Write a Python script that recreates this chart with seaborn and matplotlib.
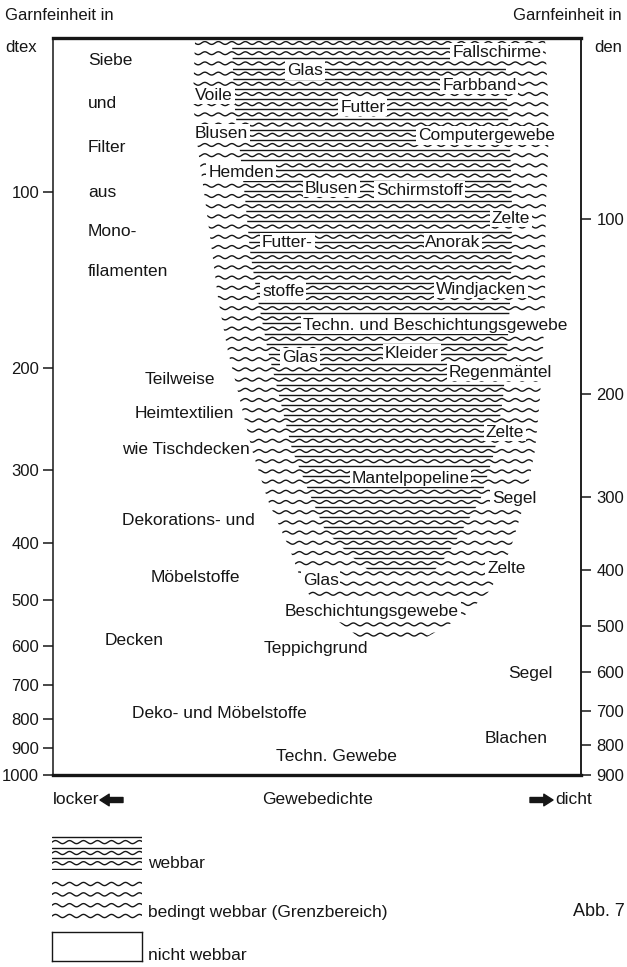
import numpy as np
import matplotlib
matplotlib.use("Agg")
import matplotlib.pyplot as plt
import matplotlib.transforms as mtransforms
from matplotlib.collections import LineCollection
from matplotlib.ticker import NullLocator
import seaborn as sns

# Grenzbereich (bedingt webbar): Garnfeinheit in dtex, Gewebedichte 0..100
outer_dtex = [55, 70, 85, 103, 126, 153, 187, 227, 277, 338, 411, 482, 532, 582]
outer_left = [26.9, 26.5, 27.5, 28.8, 30.1, 31.3, 33.1, 35.4, 37.7, 40.7, 44.9, 47.7, 52.5, 58.1]
outer_right = [93.2, 93.8, 93.8, 93.4, 93.2, 93.2, 92.8, 92.2, 91.3, 89.4, 86.6, 82.8, 78.0, 70.5]

# webbarer Bereich
inner_dtex = [55, 70, 85, 103, 126, 153, 187, 227, 277, 338, 380, 420, 445]
inner_left = [33.9, 34.3, 35.4, 36.4, 37.3, 38.8, 40.7, 43.0, 45.3, 49.1, 51.5, 56.3, 59.7]
inner_right = [85.6, 86.0, 86.6, 86.9, 86.9, 86.6, 86.0, 85.2, 83.7, 80.9, 77.5, 74.6, 72.3]

dtex_ticks = [100, 200, 300, 400, 500, 600, 700, 800, 900, 1000]
den_ticks = [100, 200, 300, 400, 500, 600, 700, 800, 900]

# Stoffe innerhalb der Fläche (Text, Dichte, dtex)
labels_in = [
    ("Fallschirme", 75.6, 57.5), ("Glas", 44.3, 61.8), ("Farbband", 73.7, 65.5),
    ("Voile", 26.9, 68.2), ("Futter", 54.4, 71.5), ("Blusen", 26.9, 79.2),
    ("Computergewebe", 69.1, 79.9), ("Hemden", 29.4, 92.4), ("Blusen", 47.7, 98.4),
    ("Schirmstoff", 61.2, 99.2), ("Zelte", 83.1, 110.8), ("Futter-", 39.6, 121.8),
    ("Anorak", 70.5, 121.8), ("stoffe", 39.6, 147.9), ("Windjacken", 72.5, 146.7),
    ("Techn. und Beschichtungsgewebe", 47.3, 169.1), ("Glas", 43.4, 191.9),
    ("Kleider", 62.9, 189.3), ("Regenmäntel", 75.0, 203.6), ("Zelte", 82.0, 258.0),
    ("Mantelpopeline", 56.6, 309.4), ("Segel", 83.1, 334.9), ("Zelte", 82.2, 441.6),
    ("Glas", 47.3, 463.1), ("Beschichtungsgewebe", 43.9, 523.3),
]

# Stoffe außerhalb (nicht webbar / Randbereiche)
labels_out = [
    ("Siebe", 6.6, 59.4), ("und", 6.6, 70.6), ("Filter", 6.6, 84.0), ("aus", 6.6, 100),
    ("Mono-", 6.6, 116.7), ("filamenten", 6.6, 136.6),
    ("Teilweise", 17.4, 209.3), ("Heimtextilien", 15.5, 239.4), ("wie Tischdecken", 13.1, 275.9),
    ("Dekorations- und", 13.1, 365.3), ("Möbelstoffe", 18.4, 457.6), ("Decken", 9.8, 586.7),
    ("Teppichgrund", 39.8, 605.6), ("Segel", 86.2, 668.4),
    ("Deko- und Möbelstoffe", 15.0, 785.8), ("Blachen", 81.8, 864.3),
    ("Techn. Gewebe", 42.2, 931.3),
]

sns.set_theme(style="white")
plt.rcParams['font.family'] = ['Liberation Sans', 'DejaVu Sans']
ink = '#161616'
fs = 12.5
fs_small = 12

W, H = 627, 967
fig = plt.figure(figsize=(W / 100, H / 100), dpi=100)
fig.patch.set_facecolor('white')
ax = fig.add_axes([53 / W, 1 - 775 / H, 528 / W, 737 / H])
ax.set_yscale('log')
ax.set_xlim(0, 100)
ax.set_ylim(1000, 54.4)

# unsichtbare Flächen als Clip-Pfade
outer = ax.fill_betweenx(outer_dtex, outer_left, outer_right, color='none', lw=0)
inner = ax.fill_betweenx(inner_dtex, inner_left, inner_right, color='none', lw=0)

# Schraffur: Wellenlinien + gerade Linien
blend = mtransforms.blended_transform_factory(ax.transData, ax.transAxes)
xs = np.linspace(0, 100, 2000)
step = 10.2 / 737
rows = np.arange(1 - 5 / 737, 0.1, -step)
amp = 1.4 / 737
period = 13.5 / 5.28
waves = [np.column_stack([xs, r + amp * np.sin(2 * np.pi * xs / period)]) for r in rows]
straight = [np.array([[0, r - step / 2], [100, r - step / 2]]) for r in rows]

wave_lc = LineCollection(waves, colors=ink, linewidths=1.0, transform=blend, zorder=2)
wave_lc.set_clip_path(outer.get_paths()[0], ax.transData)
ax.add_collection(wave_lc)
line_lc = LineCollection(straight, colors=ink, linewidths=1.0, transform=blend, zorder=2)
line_lc.set_clip_path(inner.get_paths()[0], ax.transData)
ax.add_collection(line_lc)

box = dict(boxstyle='square,pad=0.1', fc='white', ec='none')
for s, x, y in labels_in:
    ax.text(x, y, s, ha='left', va='center', fontsize=fs, color=ink, bbox=box, zorder=4)
for s, x, y in labels_out:
    ax.text(x, y, s, ha='left', va='center', fontsize=fs, color=ink, zorder=4)

# Achsen
ax.set_yticks(dtex_ticks, labels=[str(t) for t in dtex_ticks])
ax.yaxis.set_minor_locator(NullLocator())
ax.set_xticks([])
ax.tick_params(axis='y', direction='out', length=7, width=1.1, pad=3,
               labelsize=fs_small, colors=ink, left=True)
for side in ['top', 'bottom']:
    ax.spines[side].set_linewidth(2.4)
for side in ['left', 'right']:
    ax.spines[side].set_linewidth(1.1)
for sp in ax.spines.values():
    sp.set_color(ink)
    sp.set_visible(True)

sec = ax.secondary_yaxis('right', functions=(lambda d: d * 0.9, lambda d: d / 0.9))
sec.set_yticks(den_ticks, labels=[str(t) for t in den_ticks])
sec.yaxis.set_minor_locator(NullLocator())
sec.tick_params(axis='y', direction='out', length=7, width=1.1, pad=4,
                labelsize=fs_small, colors=ink)
sec.spines['right'].set_linewidth(1.1)

# Kopf- und Fußzeilen
def fx(px):
    return px / W

def fy(py):
    return 1 - py / H

fig.text(fx(5), fy(15), "Garnfeinheit in", ha='left', va='center', fontsize=fs_small, color=ink)
fig.text(fx(5), fy(48), "dtex", ha='left', va='center', fontsize=fs_small, color=ink)
fig.text(fx(622), fy(15), "Garnfeinheit in", ha='right', va='center', fontsize=fs_small, color=ink)
fig.text(fx(622), fy(48), "den", ha='right', va='center', fontsize=fs_small, color=ink)

fig.text(fx(53), fy(800), "locker", ha='left', va='center', fontsize=fs, color=ink)
fig.text(fx(318), fy(800), "Gewebedichte", ha='center', va='center', fontsize=fs, color=ink)
fig.text(fx(555), fy(800), "dicht", ha='left', va='center', fontsize=fs, color=ink)
arrow = dict(arrowstyle='simple,head_length=0.55,head_width=0.7,tail_width=0.3',
             fc=ink, ec=ink, shrinkA=0, shrinkB=0)
ax.annotate('', xy=(fx(100), fy(800)), xytext=(fx(123), fy(800)),
            xycoords='figure fraction', textcoords='figure fraction', arrowprops=arrow)
ax.annotate('', xy=(fx(553), fy(800)), xytext=(fx(530), fy(800)),
            xycoords='figure fraction', textcoords='figure fraction', arrowprops=arrow)

# Legende
lx = np.linspace(0, 1, 400)
lper = 14 / 90

def swatch(top, bottom):
    a = fig.add_axes([fx(52), fy(bottom), 90 / W, (bottom - top) / H])
    a.set_xlim(0, 1)
    a.set_ylim(0, 1)
    a.set_xticks([])
    a.set_yticks([])
    return a

sw1 = swatch(836, 870)
for r in [0.97, 0.64, 0.34, 0.04]:
    sw1.plot([0, 1], [r, r], color=ink, lw=1.0)
for r in [0.82, 0.5, 0.2]:
    sw1.plot(lx, r + 0.045 * np.sin(2 * np.pi * lx / lper), color=ink, lw=1.0)
for sp in sw1.spines.values():
    sp.set_visible(False)

sw2 = swatch(880, 920)
for r in [0.9, 0.64, 0.37, 0.1]:
    sw2.plot(lx, r + 0.04 * np.sin(2 * np.pi * lx / lper), color=ink, lw=1.0)
for sp in sw2.spines.values():
    sp.set_visible(False)

sw3 = swatch(932, 961)
for sp in sw3.spines.values():
    sp.set_visible(True)
    sp.set_linewidth(1.0)
    sp.set_color(ink)

fig.text(fx(148), fy(864), "webbar", ha='left', va='center', fontsize=fs, color=ink)
fig.text(fx(148), fy(913), "bedingt webbar (Grenzbereich)", ha='left', va='center', fontsize=fs, color=ink)
fig.text(fx(148), fy(956), "nicht webbar", ha='left', va='center', fontsize=fs, color=ink)
fig.text(fx(625), fy(912), "Abb. 7", ha='right', va='center', fontsize=13, color=ink)

fig.savefig("out.png", dpi=100)
